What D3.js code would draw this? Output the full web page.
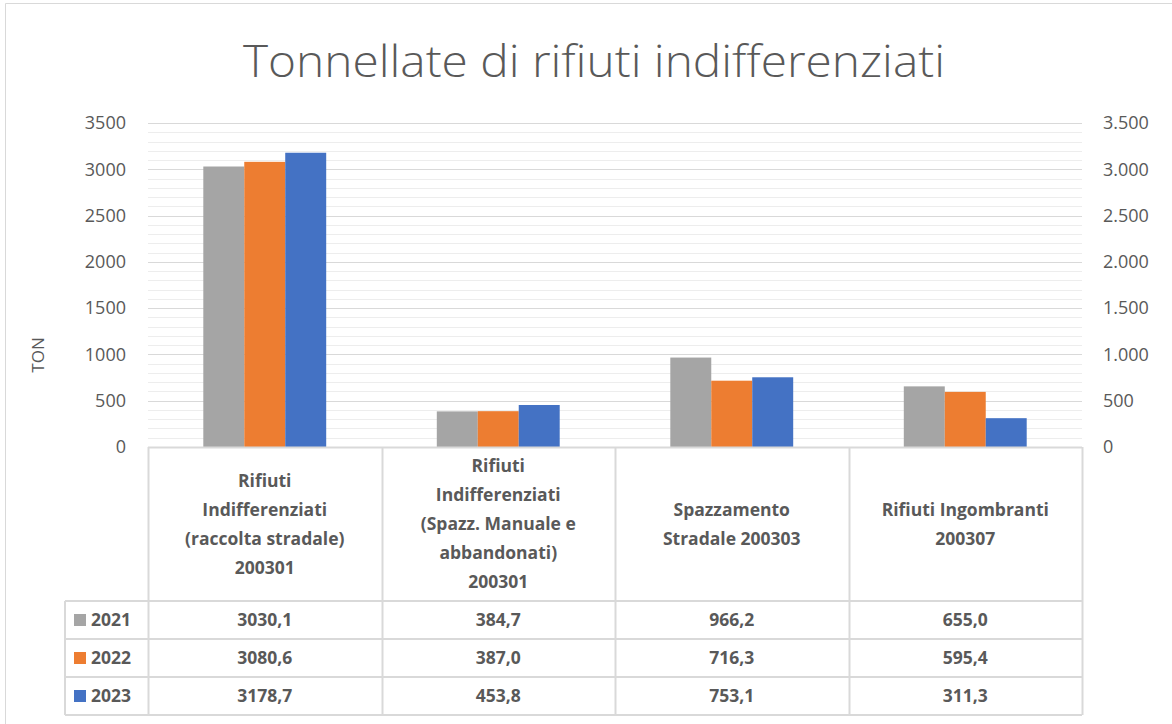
<!DOCTYPE html>
<html>
<head>
<meta charset="utf-8">
<script src="https://cdn.jsdelivr.net/npm/d3@7"></script>
<style>
  body { margin: 0; background: #fff; }
  svg { display: block; font-family: "Open Sans", "Noto Sans", sans-serif; }
</style>
</head>
<body>
<svg id="chart" width="1172" height="724"></svg>
<script>
// data
const categories = [
    ["Rifiuti", "Indifferenziati", "(raccolta stradale)", "200301"],
    ["Rifiuti", "Indifferenziati", "(Spazz. Manuale e", "abbandonati)", "200301"],
    ["Spazzamento", "Stradale 200303"],
    ["Rifiuti Ingombranti", "200307"]
];
const years = ["2021", "2022", "2023"];
const values2021 = [3030.1, 384.7, 966.2, 655.0];
const values2022 = [3080.6, 387.0, 716.3, 595.4];
const values2023 = [3178.7, 453.8, 753.1, 311.3];
const yTicks = [0, 500, 1000, 1500, 2000, 2500, 3000, 3500];
const colors = ["#A5A5A5", "#ED7D31", "#4472C4"];

const series = [values2021, values2022, values2023];

const svg = d3.select("#chart");
const plot = { left: 148, right: 1082, top: 123, bottom: 447 };

// table geometry
const headerBottom = 601;
const rowH = 38;
const legendLeft = 65;
const gridColor = "#d9d9d9";
const textColor = "#595959";

// outer frame of the chart area
svg.append("path")
    .attr("d", "M5.5,724 L5.5,3.5 L1172,3.5")
    .attr("fill", "none")
    .attr("stroke", gridColor)
    .attr("stroke-width", 1);

// title
svg.append("text")
    .attr("x", 594)
    .attr("y", 77)
    .attr("text-anchor", "middle")
    .attr("font-size", 44)
    .attr("font-weight", 300)
    .attr("fill", textColor)
    .attr("textLength", 702)
    .attr("lengthAdjust", "spacingAndGlyphs")
    .text("Tonnellate di rifiuti indifferenziati");

const x0 = d3.scaleBand()
    .domain(d3.range(categories.length))
    .range([plot.left, plot.right]);

const x1 = d3.scaleBand()
    .domain(years)
    .range([0, x0.bandwidth()])
    .paddingOuter(1.35);

const y = d3.scaleLinear()
    .domain([0, 3500])
    .range([plot.bottom, plot.top]);

// minor gridlines every 100
svg.append("g")
    .selectAll("line")
    .data(d3.range(100, 3500, 100).filter(v => v % 500 != 0))
    .enter()
    .append("line")
    .attr("x1", plot.left)
    .attr("x2", plot.right)
    .attr("y1", d => Math.round(y(d)) + 0.5)
    .attr("y2", d => Math.round(y(d)) + 0.5)
    .attr("stroke", "#ededed")
    .attr("stroke-width", 1);

// major gridlines
svg.append("g")
    .selectAll("line")
    .data(yTicks.filter(v => v > 0))
    .enter()
    .append("line")
    .attr("x1", plot.left)
    .attr("x2", plot.right)
    .attr("y1", d => Math.round(y(d)) + 0.5)
    .attr("y2", d => Math.round(y(d)) + 0.5)
    .attr("stroke", gridColor)
    .attr("stroke-width", 1);

// left axis (plain numbers)
const leftAxis = d3.axisLeft(y)
    .tickValues(yTicks)
    .tickSize(0)
    .tickPadding(22)
    .tickFormat(d3.format("d"));

const gl = svg.append("g")
    .attr("transform", `translate(${plot.left},0)`)
    .call(leftAxis);
gl.select(".domain").remove();
gl.selectAll("text")
    .attr("font-size", 18)
    .attr("font-family", "\"Open Sans\", sans-serif")
    .attr("fill", textColor);

// right axis with italian thousands separator
const it = d3.formatLocale({ decimal: ",", thousands: ".", grouping: [3], currency: ["€", ""] });
const rightAxis = d3.axisRight(y)
    .tickValues(yTicks)
    .tickSize(0)
    .tickPadding(21)
    .tickFormat(it.format(",.0f"));

const gr = svg.append("g")
    .attr("transform", `translate(${plot.right},0)`)
    .call(rightAxis);
gr.select(".domain").remove();
gr.selectAll("text")
    .attr("font-size", 18)
    .attr("font-family", "\"Open Sans\", sans-serif")
    .attr("fill", textColor);

// axis title
svg.append("text")
    .attr("transform", "translate(44,355) rotate(-90)")
    .attr("text-anchor", "middle")
    .attr("font-size", 17)
    .attr("fill", textColor)
    .text("TON");

// bars
series.forEach((vals, s) => {
    svg.append("g")
        .selectAll("rect")
        .data(vals)
        .enter()
        .append("rect")
        .attr("x", (d, i) => x0(i) + x1(years[s]))
        .attr("y", d => y(d))
        .attr("width", x1.bandwidth())
        .attr("height", d => y(0) - y(d))
        .attr("fill", colors[s]);
});

// data table
const table = svg.append("g");
const colEdges = x0.domain().map(i => x0(i)).concat([plot.right]);
const tableBottom = headerBottom + rowH * years.length;

// vertical lines of the table
colEdges.forEach(xe => {
    table.append("line")
        .attr("x1", Math.round(xe) + 0.5)
        .attr("x2", Math.round(xe) + 0.5)
        .attr("y1", plot.bottom)
        .attr("y2", tableBottom)
        .attr("stroke", gridColor)
        .attr("stroke-width", 2);
});
table.append("line")
    .attr("x1", legendLeft).attr("x2", legendLeft)
    .attr("y1", headerBottom).attr("y2", tableBottom)
    .attr("stroke", gridColor).attr("stroke-width", 2);

// horizontal lines
table.append("line")
    .attr("x1", plot.left).attr("x2", plot.right)
    .attr("y1", plot.bottom + 0.5).attr("y2", plot.bottom + 0.5)
    .attr("stroke", gridColor).attr("stroke-width", 2);
d3.range(years.length + 1).forEach(r => {
    table.append("line")
        .attr("x1", legendLeft).attr("x2", plot.right)
        .attr("y1", headerBottom + r * rowH)
        .attr("y2", headerBottom + r * rowH)
        .attr("stroke", gridColor)
        .attr("stroke-width", 2);
});

// category headers
const lineH = 29;
const fontTable = 17.5;
const headerMid = (plot.bottom + headerBottom) / 2;
categories.forEach((lines, i) => {
    const cx = x0(i) + x0.bandwidth() / 2;
    const t = table.append("text")
        .attr("text-anchor", "middle")
        .attr("font-size", fontTable)
        .attr("font-weight", 700)
        .attr("fill", textColor);
    lines.forEach((ln, k) => {
        t.append("tspan")
            .attr("x", cx)
            .attr("y", headerMid + (k - (lines.length - 1) / 2) * lineH)
            .attr("dy", "0.35em")
            .text(ln);
    });
});

// rows
const fmt = it.format(".1f");
series.forEach((vals, s) => {
    const cy = headerBottom + s * rowH + rowH / 2;
    table.append("rect")
        .attr("x", 74)
        .attr("y", cy - 6)
        .attr("width", 12)
        .attr("height", 12)
        .attr("fill", colors[s]);
    table.append("text")
        .attr("x", 91)
        .attr("y", cy)
        .attr("dy", "0.35em")
        .attr("font-size", fontTable)
        .attr("font-weight", 700)
        .attr("fill", textColor)
        .text(years[s]);
    vals.forEach((v, i) => {
        table.append("text")
            .attr("x", x0(i) + x0.bandwidth() / 2)
            .attr("y", cy)
            .attr("dy", "0.35em")
            .attr("text-anchor", "middle")
            .attr("font-size", fontTable)
            .attr("font-weight", 700)
            .attr("fill", textColor)
            .text(fmt(v));
    });
});
</script>
</body>
</html>
